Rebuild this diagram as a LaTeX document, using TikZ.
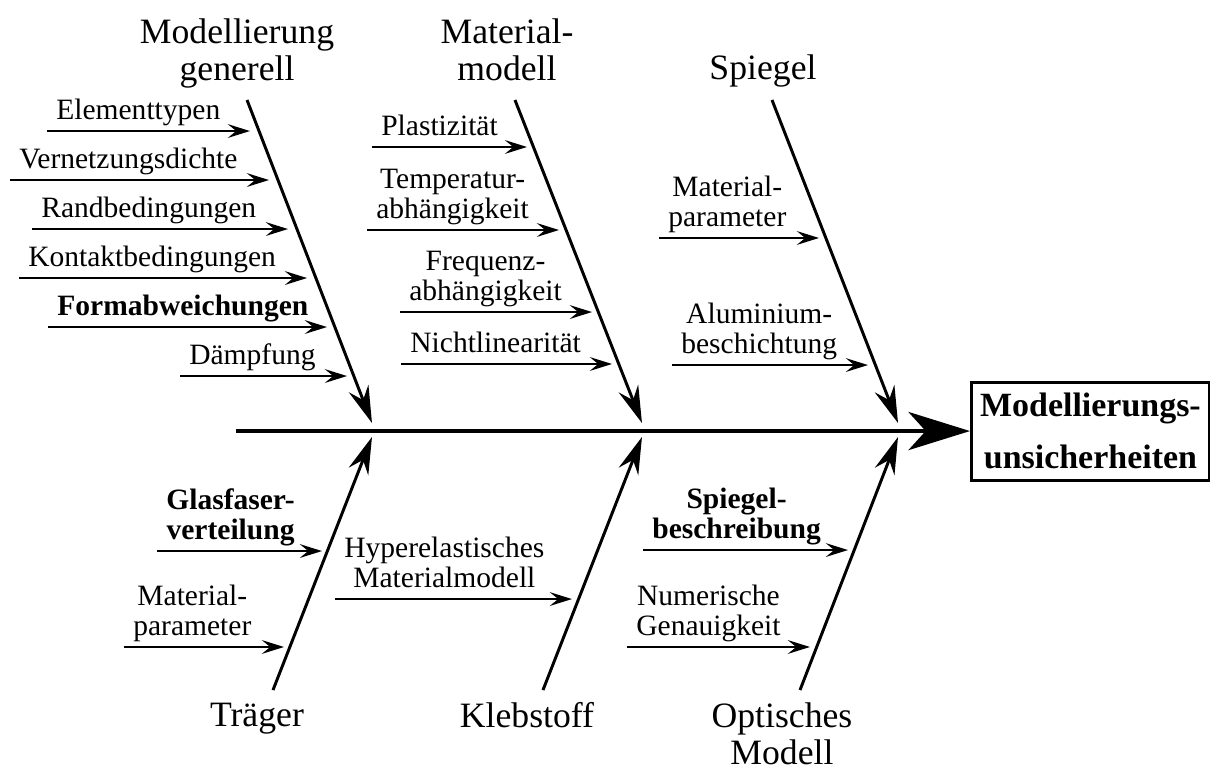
\documentclass[tikz,border=0pt]{standalone}
\usepackage{fontspec}
\setmainfont{Liberation Serif}
\usetikzlibrary{arrows.meta}

\begin{document}
\begin{tikzpicture}[
    cause/.style={anchor=south west, align=center, inner xsep=3.6pt, inner ysep=0.8pt,
                  font=\fontsize{12}{12.3}\selectfont},
    category/.style={anchor=north, align=center, inner sep=0pt,
                     font=\fontsize{14.5}{14.9}\selectfont},
    effect/.style={draw, line width=1.2pt, align=center, inner xsep=3pt,
                   minimum width=3.4cm, minimum height=1.4cm,
                   font=\fontsize{13.8}{21}\selectfont\bfseries},
    spine/.style={line width=1.6pt, -{Stealth[length=25pt, width=15.5pt, inset=7pt]}},
    bone/.style={line width=1.2pt, -{Stealth[length=15pt, width=8.5pt, inset=5pt]}},
    twig/.style={line width=0.8pt, -{Stealth[length=9pt, width=5.6pt, inset=3.4pt]}}
  ]
  \useasboundingbox (0,0) rectangle (17.286,10.929);

  % effect and spine
  \node[effect, anchor=west] (effect) at (13.857,4.771) {Modellierungs-\\unsicherheiten};
  \coordinate (tail) at (3.371,4.771);
  \draw[spine] (tail) -- (effect.west);

  % bones
  \coordinate (genTop) at (3.529,9.5);   \coordinate (genTip) at (5.314,4.886);
  \coordinate (matTop) at (7.357,9.5);   \coordinate (matTip) at (9.171,4.886);
  \coordinate (spiTop) at (11.029,9.5);  \coordinate (spiTip) at (12.829,4.886);
  \coordinate (traBot) at (3.9,1.071);   \coordinate (traTip) at (5.314,4.686);
  \coordinate (klbBot) at (7.757,1.071); \coordinate (klbTip) at (9.171,4.686);
  \coordinate (optBot) at (11.429,1.071);\coordinate (optTip) at (12.829,4.686);
  \draw[bone] (genTop) -- (genTip);
  \draw[bone] (matTop) -- (matTip);
  \draw[bone] (spiTop) -- (spiTip);
  \draw[bone] (traBot) -- (traTip);
  \draw[bone] (klbBot) -- (klbTip);
  \draw[bone] (optBot) -- (optTip);

  \node[category] (gen) at (3.386,10.667) {Modellierung\\generell};
  \node[category] (mat) at (7.243,10.667) {Material-\\modell};
  \node[category] (spi) at (10.9,10.149)  {Spiegel};
  \node[category] (tra) at (3.671,0.896)  {Tr\"ager};
  \node[category] (klb) at (7.529,0.896)  {Klebstoff};
  \node[category] (opt) at (11.171,0.896) {Optisches\\Modell};

  % causes: Modellierung generell
  \coordinate (elemTip) at (3.571,9.057);
  \coordinate (vernTip) at (3.843,8.357);
  \coordinate (randTip) at (4.114,7.657);
  \coordinate (kontTip) at (4.386,6.957);
  \coordinate (formTip) at (4.671,6.257);
  \coordinate (daemTip) at (4.957,5.557);
  \node[cause] (elem) at (0.671,9.057) {Elementtypen\strut};
  \node[cause] (vern) at (0.143,8.357) {Vernetzungsdichte\strut};
  \node[cause] (rand) at (0.457,7.657) {Randbedingungen\strut};
  \node[cause] (kont) at (0.271,6.957) {Kontaktbedingungen\strut};
  \node[cause] (form) at (0.686,6.257) {\bfseries Formabweichungen\strut};
  \node[cause] (daem) at (2.571,5.557) {D\"ampfung\strut};
  \draw[twig] (elem.south west) -- (elemTip);
  \draw[twig] (vern.south west) -- (vernTip);
  \draw[twig] (rand.south west) -- (randTip);
  \draw[twig] (kont.south west) -- (kontTip);
  \draw[twig] (form.south west) -- (formTip);
  \draw[twig] (daem.south west) -- (daemTip);

  % causes: Materialmodell
  \coordinate (plasTip) at (7.529,8.829);
  \coordinate (tempTip) at (7.986,7.643);
  \coordinate (freqTip) at (8.457,6.471);
  \coordinate (nlinTip) at (8.743,5.729);
  \node[cause] (plas) at (5.314,8.829) {Plastizit\"at\strut};
  \node[cause] (temp) at (5.243,7.643) {Temperatur-\\abh\"angigkeit\strut};
  \node[cause] (freq) at (5.714,6.471) {Frequenz-\\abh\"angigkeit\strut};
  \node[cause] (nlin) at (5.729,5.729) {Nichtlinearit\"at\strut};
  \draw[twig] (plas.south west) -- (plasTip);
  \draw[twig] (temp.south west) -- (tempTip);
  \draw[twig] (freq.south west) -- (freqTip);
  \draw[twig] (nlin.south west) -- (nlinTip);

  % causes: Spiegel
  \coordinate (smatTip) at (11.7,7.529);
  \coordinate (aluTip)  at (12.4,5.714);
  \node[cause] (smat) at (9.414,7.529) {Material-\\parameter\strut};
  \node[cause] (alu)  at (9.6,5.714)   {Aluminium-\\beschichtung\strut};
  \draw[twig] (smat.south west) -- (smatTip);
  \draw[twig] (alu.south west) -- (aluTip);

  % causes: Traeger
  \coordinate (glasTip) at (4.6,3.057);
  \coordinate (tmatTip) at (4.057,1.686);
  \node[cause] (glas) at (2.243,3.057) {\bfseries Glasfaser-\\\bfseries verteilung\strut};
  \node[cause] (tmat) at (1.771,1.686) {Material-\\parameter\strut};
  \draw[twig] (glas.south west) -- (glasTip);
  \draw[twig] (tmat.south west) -- (tmatTip);

  % causes: Klebstoff
  \coordinate (hypTip) at (8.171,2.371);
  \node[cause] (hyp) at (4.786,2.371) {Hyperelastisches\\Materialmodell\strut};
  \draw[twig] (hyp.south west) -- (hypTip);

  % causes: Optisches Modell
  \coordinate (sbesTip) at (12.114,3.071);
  \coordinate (numTip)  at (11.571,1.686);
  \node[cause] (sbes) at (9.186,3.071) {\bfseries Spiegel-\\\bfseries beschreibung\strut};
  \node[cause] (num)  at (8.957,1.686) {Numerische\\Genauigkeit\strut};
  \draw[twig] (sbes.south west) -- (sbesTip);
  \draw[twig] (num.south west) -- (numTip);
\end{tikzpicture}
\end{document}
